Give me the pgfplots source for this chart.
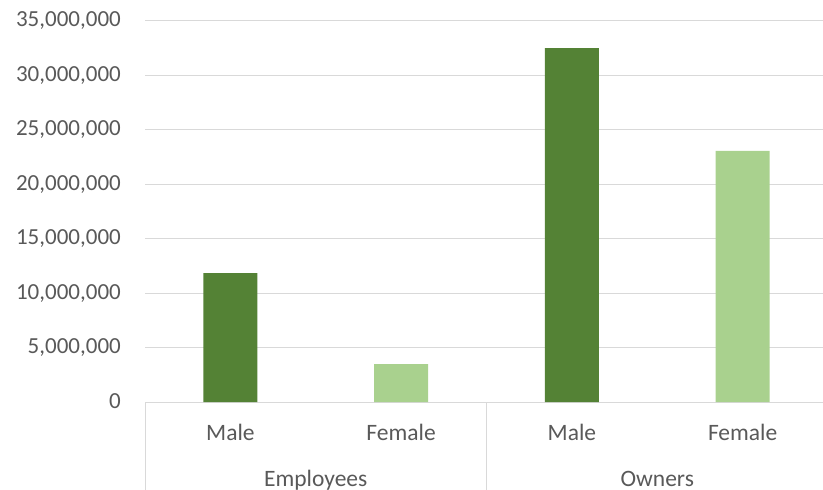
\documentclass[border=0pt]{standalone}
\usepackage{pgfplots}
\pgfplotsset{compat=1.18}
\usepackage{fontspec}
\setmainfont{Carlito}
\definecolor{darkg}{HTML}{548235}
\definecolor{lightg}{HTML}{A9D18E}
\definecolor{txt}{HTML}{595959}
\definecolor{gridc}{HTML}{D9D9D9}
\begin{document}
\begin{tikzpicture}
\begin{axis}[
  at={(145bp,88bp)}, anchor=south west,
  scale only axis, width=683bp, height=381bp,
  xmin=-0.5, xmax=3.5, ymin=0, ymax=35000000,
  axis line style={draw=none},
  clip=false,
  ybar,
  ytick={0,5000000,10000000,15000000,20000000,25000000,30000000,35000000},
  ymajorgrids, grid style={gridc, line width=1bp},
  major tick length=0pt,
  xtick={0,1,2,3}, xticklabels={Male,Female,Male,Female},
  scaled y ticks=false,
  yticklabel style={anchor=base east, inner sep=0pt, xshift=-24bp, yshift=-6bp,
    font=\fontsize{23bp}{27bp}\selectfont, text=txt,
    /pgf/number format/.cd, fixed, 1000 sep={,}, assume math mode=true},
  xticklabel style={anchor=base, inner sep=0pt, yshift=-38bp,
    font=\fontsize{23.5bp}{27bp}\selectfont, text=txt},
]
\addplot[fill=darkg, draw=none, bar width=54bp, bar shift=0pt] coordinates {(0,11850000) (2,32500000)};
\addplot[fill=lightg, draw=none, bar width=54bp, bar shift=0pt] coordinates {(1,3490000) (3,23060000)};
\draw[gridc, line width=1bp] (axis cs:-0.5,0) -- ++(0pt,-88bp);
\draw[gridc, line width=1bp] (axis cs:1.5,0) -- ++(0pt,-88bp);
\draw[gridc, line width=1bp] (axis cs:3.5,0) -- ++(0pt,-88bp);
\node[anchor=base, inner sep=0pt, yshift=-84.5bp, font=\fontsize{23.5bp}{27bp}\selectfont, text=txt] at (axis cs:0.5,0) {Employees};
\node[anchor=base, inner sep=0pt, yshift=-84.5bp, font=\fontsize{23.5bp}{27bp}\selectfont, text=txt] at (axis cs:2.5,0) {Owners};
\end{axis}
\pgfresetboundingbox
\useasboundingbox (0,0) rectangle (823bp,490bp);
\end{tikzpicture}
\end{document}
